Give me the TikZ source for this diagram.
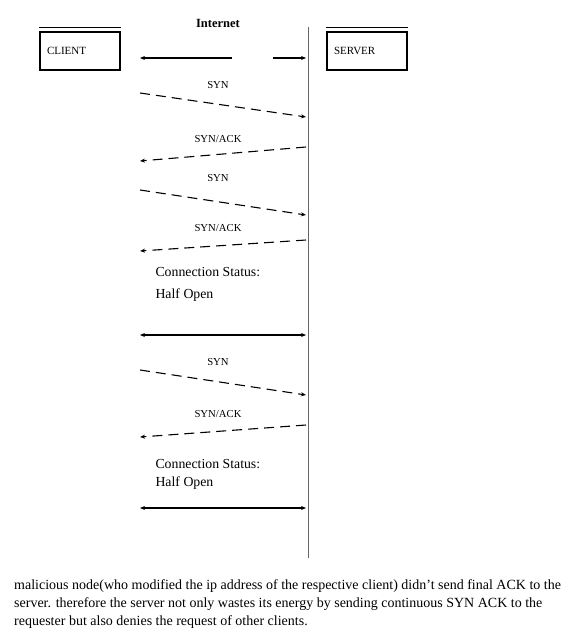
\documentclass[tikz,border=0pt]{standalone}
\usepackage{fontspec}
\setmainfont{Liberation Serif}
\usetikzlibrary{arrows.meta, positioning}

\tikzset{
    hostbox/.style={draw, line width=1.8pt, minimum width=80pt, minimum height=38pt,
        text width=66pt, align=left, font=\fontsize{11}{12}\selectfont},
    msg/.style={dashed, dash pattern=on 10pt off 6pt, line width=1.1pt, -{Stealth[length=5pt,width=4pt]}},
    link/.style={line width=1.1pt, {Stealth[length=5pt,width=4pt]}-{Stealth[length=5pt,width=4pt]}},
    lbl/.style={font=\fontsize{10.7}{12}\selectfont},
    status/.style={anchor=north west, align=left, font=\fontsize{13.8}{16}\selectfont},
}

\begin{document}
\begin{tikzpicture}[x=1pt, y=-1pt]
        \useasboundingbox (0,0) rectangle (580,629);

        % hosts
        \node[hostbox] (client) at (80,51) {CLIENT};
        \node[hostbox] (server) at (367,51) {SERVER};
        \draw[thick] ([yshift=4pt]client.north west) -- ([yshift=4pt]client.north east);
        \draw[thick] ([yshift=4pt]server.north west) -- ([yshift=4pt]server.north east);
        \node[font=\bfseries\fontsize{12.5}{14}\selectfont] (net) at (218,23) {Internet};

        % server line
        \coordinate (stop) at (308,27);
        \coordinate (sbot) at (308,558);
        \draw[gray!80!black, thick] (stop) -- (sbot);

        % client and server ends of the messages
        \coordinate (c0) at (140,58);  \coordinate (s0) at (306,58);
        \coordinate (g0) at (232,58);  \coordinate (h0) at (273,58);
        \coordinate (c1) at (140,93);  \coordinate (s1) at (306,117);
        \coordinate (c2) at (140,161); \coordinate (s2) at (306,147);
        \coordinate (c3) at (140,190); \coordinate (s3) at (306,215);
        \coordinate (c4) at (140,251); \coordinate (s4) at (306,240);
        \coordinate (c5) at (140,335); \coordinate (s5) at (306,335);
        \coordinate (c6) at (140,370); \coordinate (s6) at (306,395);
        \coordinate (c7) at (140,437); \coordinate (s7) at (306,425);
        \coordinate (c8) at (140,508); \coordinate (s8) at (306,508);

        % labels
        \node[lbl] (syn1) at (218,85) {SYN};
        \node[lbl] (ack1) at (218,139) {SYN/ACK};
        \node[lbl] (syn2) at (218,178) {SYN};
        \node[lbl] (ack2) at (218,228) {SYN/ACK};
        \node[status] (half1) at (152,264) {Connection Status:\\[6pt] Half Open};
        \node[lbl] (syn3) at (218,362) {SYN};
        \node[lbl] (ack3) at (218,414) {SYN/ACK};
        \node[status] (half2) at (152,456) {Connection Status:\\[2pt] Half Open};

        % messages
        \draw[line width=1.1pt, -{Stealth[length=5pt,width=4pt]}] (g0) -- (c0);
        \draw[line width=1.1pt, -{Stealth[length=5pt,width=4pt]}] (h0) -- (s0);
        \draw[msg] (c1) -- (s1);
        \draw[msg] (s2) -- (c2);
        \draw[msg] (c3) -- (s3);
        \draw[msg] (s4) -- (c4);
        \draw[link] (c5) -- (s5);
        \draw[msg] (c6) -- (s6);
        \draw[msg] (s7) -- (c7);
        \draw[link] (c8) -- (s8);

        % caption
        \node[anchor=north west, align=left, inner sep=0pt,
            font=\fontsize{14}{18}\selectfont] (note) at (14,579)
            {malicious node(who modified the ip address of the respective client) didn't send final ACK to the\\
             server. therefore the server not only wastes its energy by sending continuous SYN ACK to the\\
             requester but also denies the request of other clients.};
\end{tikzpicture}
\end{document}
